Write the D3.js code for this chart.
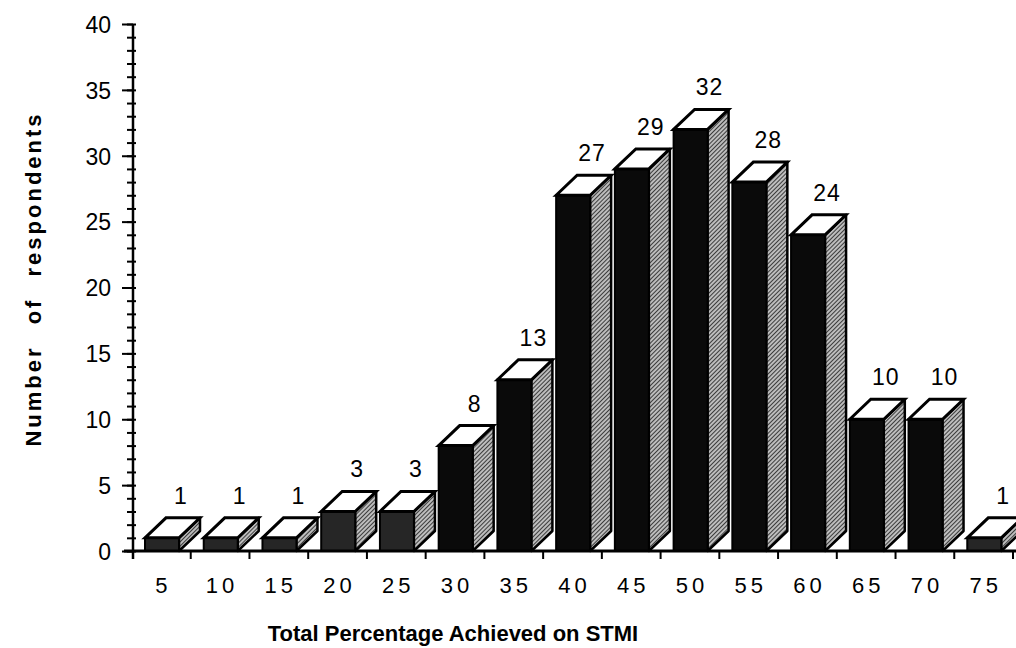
<!DOCTYPE html>
<html>
<head>
<meta charset="utf-8">
<script src="https://cdn.jsdelivr.net/npm/d3@7/dist/d3.min.js"></script>
<style>
  body { margin: 0; background: #fff; }
  svg { display: block; font-family: "Liberation Sans", Arial, Helvetica, sans-serif; }
</style>
</head>
<body>
<svg id="chart" width="1016" height="648"></svg>
<script>
// data
var categories = ["5", "10", "15", "20", "25", "30", "35", "40", "45", "50", "55", "60", "65", "70", "75"];
var respondents = [1, 1, 1, 3, 3, 8, 13, 27, 29, 32, 28, 24, 10, 10, 1];
var yMajorTicks = [0, 5, 10, 15, 20, 25, 30, 35, 40];

var svg = d3.select("#chart");

var x = d3.scaleBand().domain(categories).range([132, 1013]).padding(0);
var y = d3.scaleLinear().domain([0, 40]).range([551, 24]);

// 3d look
var depthX = 21, depthY = 20;
var frontOff = 13, frontW = 34;

var defs = svg.append("defs");
var hatch = defs.append("pattern")
    .attr("id", "hatch")
    .attr("patternUnits", "userSpaceOnUse")
    .attr("width", 3).attr("height", 3)
    .attr("patternTransform", "rotate(45)");
hatch.append("rect").attr("width", 3).attr("height", 3).attr("fill", "#bdbdbd");
hatch.append("line").attr("x1", 0).attr("y1", 0).attr("x2", 0).attr("y2", 3)
    .attr("stroke", "#1a1a1a").attr("stroke-width", 1.6);

var data = categories.map(function(c, i){ return {cat: c, value: respondents[i]}; });

var bars = svg.append("g").attr("class", "bars")
  .selectAll("g")
  .data(data)
  .enter().append("g");

// side face
bars.append("polygon")
    .attr("points", function(d){
      var x1 = x(d.cat) + frontOff + frontW, y0 = y(0), y1 = y(d.value);
      return [[x1, y0], [x1 + depthX, y0 - depthY], [x1 + depthX, y1 - depthY], [x1, y1]].join(" ");
    })
    .style("fill", "url(#hatch)")
    .style("stroke", "#000")
    .style("stroke-width", 2.5)
    .style("stroke-linejoin", "round");

// front face
bars.append("rect")
    .attr("x", function(d){ return x(d.cat) + frontOff; })
    .attr("y", function(d){ return y(d.value); })
    .attr("width", frontW)
    .attr("height", function(d){ return y(0) - y(d.value); })
    .style("fill", function(d){ return d.value < 5 ? "#262626" : "#0a0a0a"; })
    .style("stroke", "#000")
    .style("stroke-width", 2);

// top face
bars.append("polygon")
    .attr("points", function(d){
      var x0 = x(d.cat) + frontOff, x1 = x0 + frontW, y1 = y(d.value);
      return [[x0, y1], [x0 + depthX, y1 - depthY], [x1 + depthX, y1 - depthY], [x1, y1]].join(" ");
    })
    .style("fill", "#fff")
    .style("stroke", "#000")
    .style("stroke-width", 3)
    .style("stroke-linejoin", "miter");

// value labels
bars.append("text")
    .attr("x", function(d){ return x(d.cat) + frontOff + frontW + 2; })
    .attr("y", function(d){ return y(d.value) - depthY - 14; })
    .attr("text-anchor", "middle")
    .style("font-size", "23px")
    .style("letter-spacing", "1px")
    .text(function(d){ return d.value; });

// y axis - minor ticks
var yMinor = svg.append("g")
    .attr("transform", "translate(133,0)")
    .call(d3.axisLeft(y).tickValues(d3.range(0, 41, 1)).tickSize(6).tickFormat(""));
yMinor.select(".domain").remove();
yMinor.selectAll(".tick line").attr("x2", -6).attr("x1", 3).style("stroke-width", 2);

// y axis - major ticks
var yAxis = svg.append("g")
    .attr("transform", "translate(133,0)")
    .call(d3.axisLeft(y).tickValues(yMajorTicks).tickSize(11).tickPadding(11));
yAxis.select(".domain").attr("d", "M0," + y(40) + "V" + (y(0) + 8)).style("stroke-width", 2.5);
yAxis.selectAll(".tick line").style("stroke-width", 2);
yAxis.selectAll(".tick text")
    .style("font-size", "23px")
    .style("font-family", "Liberation Sans, Arial, sans-serif")
    .attr("dy", "0.36em");

// x axis
var xAxis = svg.append("g")
    .attr("transform", "translate(0," + y(0) + ")");
xAxis.append("line")
    .attr("x1", 124).attr("x2", 1016)
    .attr("stroke", "#000").attr("stroke-width", 3);
xAxis.selectAll(".xtick")
    .data(categories)
    .enter().append("line")
    .attr("class", "xtick")
    .attr("x1", function(d){ return x(d) + x.bandwidth(); })
    .attr("x2", function(d){ return x(d) + x.bandwidth(); })
    .attr("y1", 0).attr("y2", 8)
    .attr("stroke", "#000").attr("stroke-width", 2);
xAxis.selectAll(".xlabel")
    .data(categories)
    .enter().append("text")
    .attr("class", "xlabel")
    .attr("x", function(d){ return x(d) + x.bandwidth() / 2 + 2; })
    .attr("y", 42)
    .attr("text-anchor", "middle")
    .style("font-size", "22px")
    .style("letter-spacing", "4px")
    .text(function(d){ return d; });

// axis titles
svg.append("text")
    .attr("x", 453)
    .attr("y", 641)
    .attr("text-anchor", "middle")
    .style("font-size", "22px")
    .style("font-weight", "bold")
    .text("Total Percentage Achieved on STMI");

svg.append("text")
    .attr("transform", "translate(41,279) rotate(-90)")
    .attr("text-anchor", "middle")
    .style("font-size", "22px")
    .style("font-weight", "bold")
    .style("letter-spacing", "3px")
    .style("word-spacing", "12px")
    .text("Number of respondents");
</script>
</body>
</html>
